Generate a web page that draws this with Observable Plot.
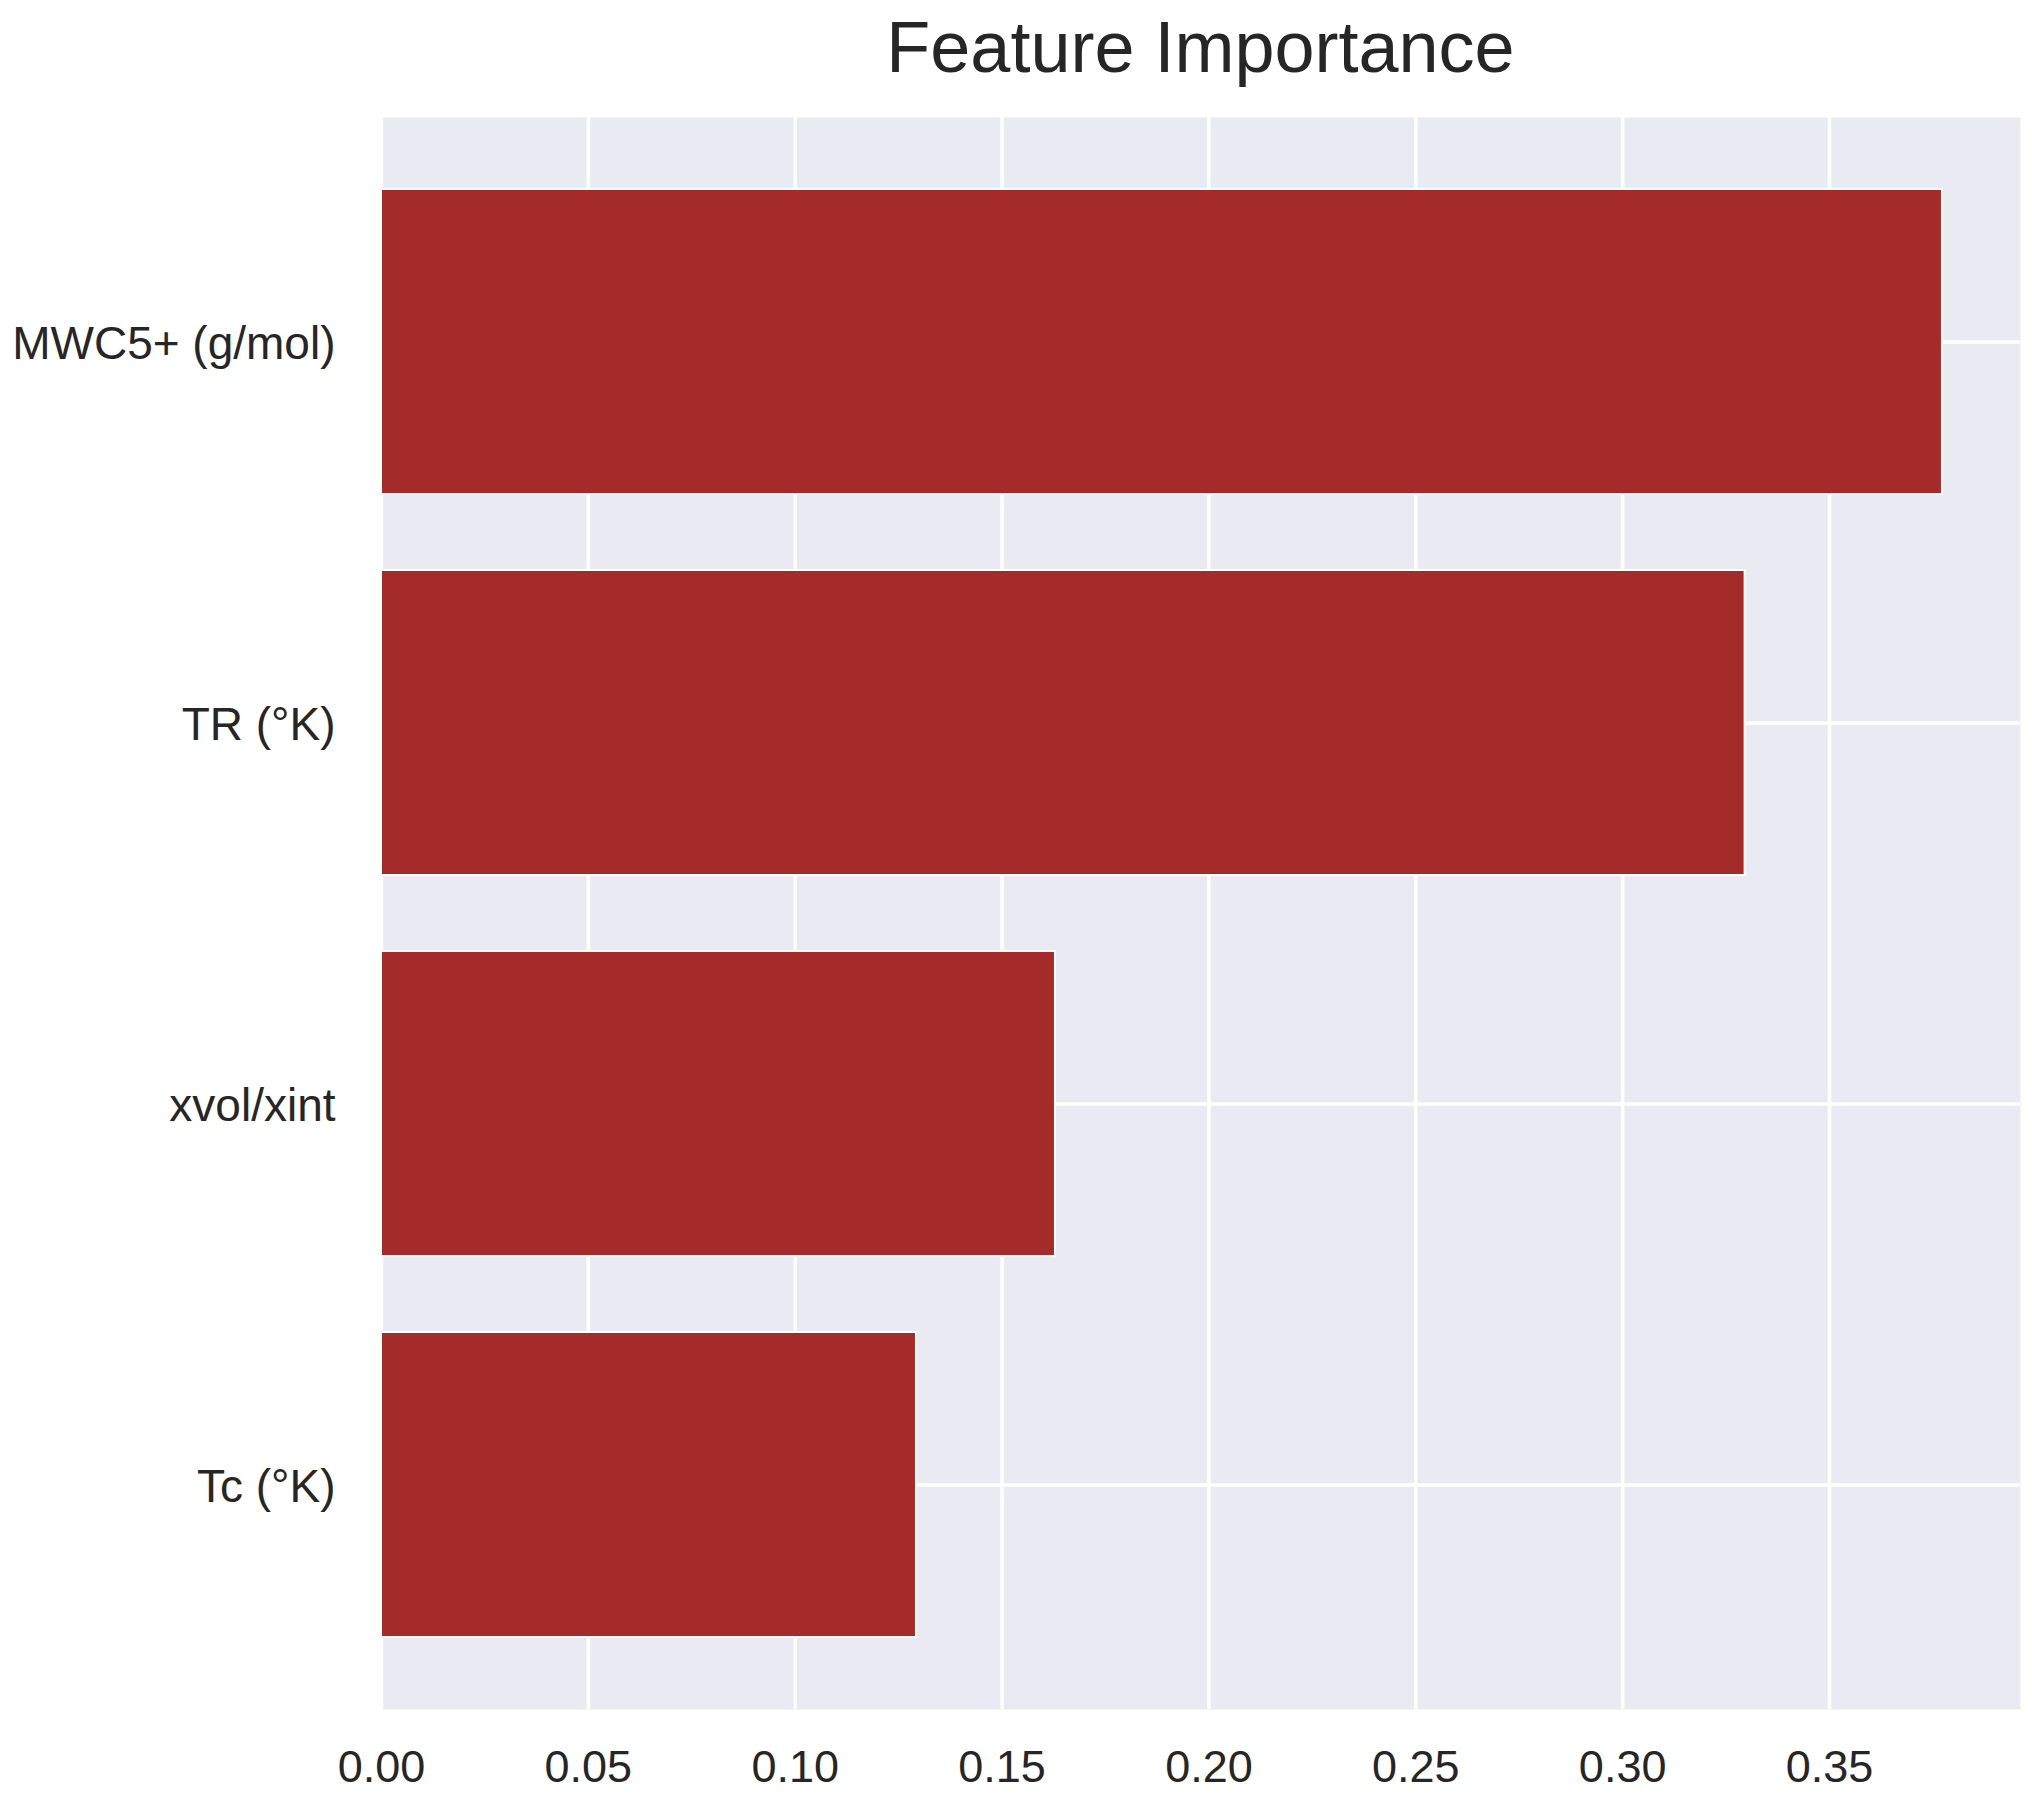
<!DOCTYPE html>
<html>
<head>
<meta charset="utf-8">
<script src="https://cdn.jsdelivr.net/npm/d3@7"></script>
<script src="https://cdn.jsdelivr.net/npm/@observablehq/plot@0.6"></script>
<style>
  html, body { margin: 0; padding: 0; background: #ffffff; }
  #title {
    width: 2032px; height: 100px; line-height: 94px;
    text-align: center; font-family: "Liberation Sans", Arial, sans-serif;
    font-size: 72px; color: #262626; padding-left: 369px; box-sizing: border-box;
  }
  #chart svg { display: block; }
</style>
</head>
<body>
<div id="title">Feature Importance</div>
<div id="chart"></div>
<script>
const features = ["MWC5+ (g/mol)", "TR (°K)", "xvol/xint", "Tc (°K)"];
const importances = [0.3773, 0.3296, 0.1629, 0.1293];
const xTicks = [0, 0.05, 0.10, 0.15, 0.20, 0.25, 0.30, 0.35];

const data = features.map((f, i) => ({feature: f, value: importances[i]}));
const xMax = d3.max(importances) * 1.05;

const chart = Plot.plot({
  width: 2032,
  height: 1714,
  marginTop: 17,
  marginBottom: 105,
  marginLeft: 381,
  marginRight: 12,
  style: {
    fontFamily: "'Liberation Sans', Arial, sans-serif",
    fontSize: "45px",
    color: "#262626",
    background: "#ffffff"
  },
  x: {domain: [0, xMax], label: null},
  y: {domain: features, paddingInner: 0.2, paddingOuter: 0.185, label: null},
  marks: [
    Plot.frame({fill: "#EAEAF2", stroke: null}),
    Plot.gridX({ticks: xTicks, stroke: "white", strokeOpacity: 1, strokeWidth: 3.5}),
    Plot.gridY({stroke: "white", strokeOpacity: 1, strokeWidth: 3.5}),
    Plot.barX(data, {x: "value", y: "feature", fill: "#A52A2A", stroke: "white", strokeWidth: 2}),
    Plot.axisX({ticks: xTicks, tickFormat: d3.format(".2f"), tickSize: 0, tickPadding: 41, label: null, fontSize: 45}),
    Plot.axisY({tickSize: 0, tickPadding: 46, label: null, fontSize: 46, dy: 2})
  ]
});
document.getElementById("chart").appendChild(chart);
</script>
</body>
</html>
